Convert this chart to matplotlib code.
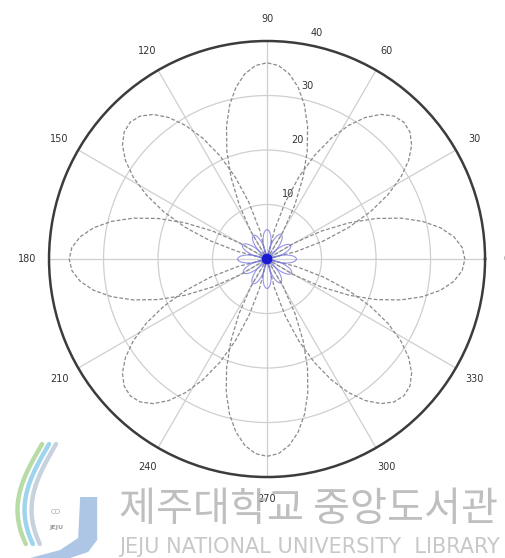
import numpy as np
import matplotlib.pyplot as plt
from matplotlib.patches import Polygon

# eight dashed lobes: axis direction (deg) and peak radius
lobe_dirs = [0, 45, 90, 135, 180, 225, 270, 315]
lobe_peaks = [36.3, 35.5, 36.0, 35.5, 36.3, 35.5, 36.2, 35.5]
lobe_halfwidth = 34  # deg from lobe axis to where it closes at the origin

# small solid flower around the origin
petal_dirs = [0, 30, 60, 90, 120, 150, 180, 210, 240, 270, 300, 330]
petal_peaks = [5.4, 5.0, 5.2, 5.4, 5.0, 5.2, 5.4, 5.0, 5.2, 5.4, 5.0, 5.2]
petal_halfwidth = 22
core_dirs = list(range(0, 360, 15))
core_peak = 0.9
core_halfwidth = 7.5

# lobe profile: offset as fraction of half-width -> radius as fraction of peak
profile_u = [0.0, 0.1, 0.2, 0.3, 0.4, 0.5, 0.6, 0.7, 0.8, 0.9, 1.0]
profile_r = [1.0, 0.988, 0.951, 0.891, 0.809, 0.707, 0.588, 0.454, 0.309, 0.156, 0.0]

theta_ticks = [0, 30, 60, 90, 120, 150, 180, 210, 240, 270, 300, 330]
r_ticks = [10, 20, 30, 40]


def lobe(direction, peak, half):
    u = np.array(profile_u)
    f = np.array(profile_r)
    offs = np.concatenate([-u[::-1], u[1:]]) * half
    rr = np.concatenate([f[::-1], f[1:]]) * peak
    return np.deg2rad(direction + offs), rr


fig = plt.figure(figsize=(5.06, 5.58), dpi=100)
ax = fig.add_axes([0.0969, 0.1451, 0.8617, 0.7814], projection='polar')

ax.set_ylim(0, 40)
ax.set_rticks(r_ticks)
ax.set_thetagrids(theta_ticks, labels=[''] * len(theta_ticks))
ax.set_yticklabels([])
ax.grid(True, color='#cfcfcf', linewidth=0.9, linestyle='-')
ax.spines['polar'].set_color('#3c3c3c')
ax.spines['polar'].set_linewidth(1.8)
ax.tick_params(length=0)

for d, p in zip(lobe_dirs, lobe_peaks):
    t, r = lobe(d, p, lobe_halfwidth)
    ax.plot(t, r, color='#8a8a8a', linewidth=0.9, linestyle=(0, (3, 1.6)))

for d, p in zip(petal_dirs, petal_peaks):
    t, r = lobe(d, p, petal_halfwidth)
    ax.plot(t, r, color='#7272dc', linewidth=0.8, alpha=0.75)

for d in core_dirs:
    t, r = lobe(d, core_peak, core_halfwidth)
    ax.plot(t, r, color='#1a1ad0', linewidth=0.9)

# angle labels outside the rim
for a in theta_ticks:
    ax.text(np.deg2rad(a), 44.0, str(a), ha='center', va='center',
            fontsize=7, color='#333333', clip_on=False)

# radius labels, nudged up and right of their rings
for rv in r_ticks:
    ax.annotate(str(rv), xy=(np.deg2rad(80), rv), xytext=(8.5, 8.5),
                textcoords='offset points', ha='center', va='center',
                fontsize=7, color='#333333', annotation_clip=False)

# library watermark
fig.text(0.236, 0.087, '제주대학교 중앙도서관', fontsize=29,
         family=['Noto Sans CJK KR', 'DejaVu Sans'], weight='light',
         color='#b4b4b4', alpha=0.85, ha='left', va='center')
fig.text(0.236, 0.020, 'JEJU NATIONAL UNIVERSITY  LIBRARY', fontsize=15,
         family='DejaVu Sans', color='#c8c8c8',
         ha='left', va='center')

# logo
lax = fig.add_axes([0.0, 0.0, 0.2, 0.215])
lax.set_xlim(0, 101)
lax.set_ylim(558, 438)
lax.axis('off')
lax.add_patch(Polygon([(80, 497), (97, 497), (97, 540), (88, 552), (70, 558),
                       (30, 558), (60, 550), (78, 538)],
                      closed=True, facecolor='#aec6e6', edgecolor='none'))
sw = np.linspace(0, 1, 30)
for dx, col in zip([0, 7, 14], ['#b8dca6', '#9fd4ef', '#c8d2de']):
    xs = 42 + dx - 30 * np.sin(sw * 2.2) + 8 * sw
    ys = 444 + 100 * sw
    lax.plot(xs, ys, color=col, linewidth=3.2, solid_capstyle='round')
lax.text(56, 512, 'CO', fontsize=5, color='#a8a8a8', ha='center', va='center')
lax.text(56, 527, 'JEJU', fontsize=4.5, color='#9a9a9a', ha='center',
         va='center', weight='bold')

fig.savefig('out.png', dpi=100)
